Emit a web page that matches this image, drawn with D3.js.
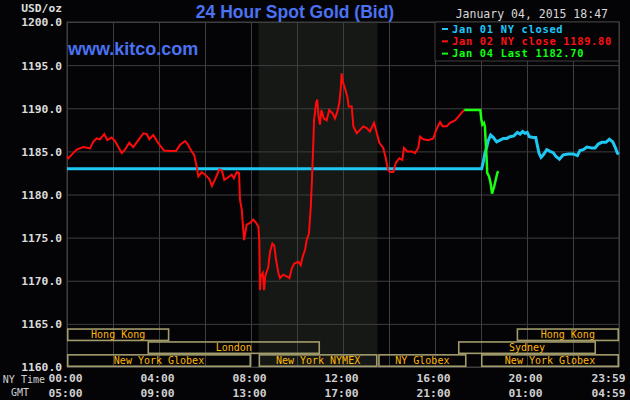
<!DOCTYPE html>
<html>
<head>
<meta charset="utf-8">
<script src="https://cdn.jsdelivr.net/npm/d3@7/dist/d3.min.js"></script>
<style>
html,body{margin:0;padding:0;background:#040406;}
svg{display:block;}
</style>
</head>
<body>
<svg id="chart" width="630" height="400"></svg>
<script>
// ---------------- DATA ----------------
const yTicks = [1160, 1165, 1170, 1175, 1180, 1185, 1190, 1195, 1200];
const xGridHours = [0,2,4,6,8,10,12,14,16,18,20,22,24];
const xLabelHours = [0,4,8,12,16,20,24];
const nyTimeLabels = ["00:00","04:00","08:00","12:00","16:00","20:00","23:59"];
const gmtLabels = ["05:00","09:00","13:00","17:00","21:00","01:00","04:59"];

// Jan 02 NY close (red) : [hour, price]
const redHours = [0.00,0.06,0.27,0.42,0.71,1.00,1.14,1.29,1.43,1.62,1.75,1.94,2.09,2.23,2.38,2.52,2.71,2.88,3.10,3.32,3.47,3.58,3.75,3.93,4.04,4.22,4.48,4.74,4.91,5.13,5.23,5.42,5.53,5.64,5.71,5.86,6.00,6.19,6.30,6.43,6.62,6.73,6.84,7.01,7.16,7.26,7.38,7.48,7.52,7.60,7.64,7.70,7.81,7.96,8.10,8.22,8.32,8.36,8.39,8.42,8.51,8.57,8.62,8.75,8.83,8.93,9.01,9.09,9.19,9.26,9.40,9.55,9.67,9.77,9.88,10.06,10.16,10.25,10.35,10.42,10.52,10.60,10.65,10.70,10.74,10.83,10.88,10.94,11.00,11.06,11.17,11.29,11.40,11.55,11.65,11.75,11.84,11.91,11.94,11.99,12.09,12.19,12.25,12.38,12.45,12.60,12.74,12.88,13.03,13.17,13.35,13.43,13.58,13.75,13.86,13.93,13.97,14.04,14.19,14.30,14.45,14.58,14.65,14.80,14.99,15.13,15.27,15.35,15.49,15.71,15.93,16.07,16.22,16.33,16.51,16.65,16.87,17.01,17.16,17.27];
const redPrices = [1184.4,1184.2,1184.8,1185.2,1185.5,1185.35,1186.1,1186.5,1186.4,1187.0,1186.3,1186.6,1186.2,1185.5,1184.8,1185.2,1186.0,1185.5,1186.3,1187.1,1187.0,1186.4,1186.9,1186.1,1185.7,1185.1,1185.05,1185.05,1185.75,1186.2,1185.9,1185.0,1184.6,1183.2,1182.1,1182.6,1182.3,1181.8,1181.0,1181.7,1182.9,1182.8,1181.7,1182.0,1182.3,1181.9,1182.6,1182.5,1179.4,1178.2,1176.7,1174.7,1176.5,1176.7,1177.1,1176.7,1176.3,1174.7,1168.9,1170.5,1170.9,1168.9,1170.5,1171.6,1173.4,1174.3,1174.1,1172.4,1170.9,1170.3,1170.7,1170.5,1170.3,1171.4,1172.0,1172.2,1171.8,1172.8,1173.6,1174.7,1175.5,1178.6,1181.7,1185.2,1188.6,1190.6,1191.0,1189.0,1188.1,1189.8,1188.8,1188.6,1189.8,1189.4,1188.8,1189.6,1190.6,1192.5,1194.05,1193.1,1192.3,1191.3,1190.2,1190.2,1187.9,1187.1,1187.5,1187.9,1187.7,1187.3,1188.3,1187.5,1186.0,1185.4,1184.2,1183.2,1182.8,1182.6,1182.6,1183.7,1184.2,1184.0,1185.4,1185.0,1185.0,1184.8,1185.4,1186.7,1186.4,1186.3,1186.5,1187.6,1188.4,1187.9,1187.9,1188.3,1188.6,1189.0,1189.5,1189.8];

// Jan 04 Last (green)
const greenHours = [17.27,17.97,18.02,18.06,18.13,18.17,18.20,18.24,18.27,18.35,18.42,18.48,18.57,18.64,18.71,18.75];
const greenPrices = [1189.8,1189.8,1188.6,1188.1,1188.3,1187.9,1186.3,1184.4,1182.5,1182.1,1181.3,1180.1,1180.9,1181.7,1182.5,1182.7];

// Jan 01 NY closed (cyan)
const cyanHours = [0.00,17.97,18.03,18.10,18.17,18.25,18.32,18.42,18.54,18.68,18.83,18.97,19.12,19.26,19.43,19.58,19.70,19.81,19.91,20.01,20.10,20.28,20.38,20.45,20.52,20.61,20.71,20.86,21.00,21.14,21.26,21.41,21.58,21.80,22.01,22.19,22.30,22.45,22.60,22.81,22.96,23.10,23.25,23.43,23.58,23.73,23.83,23.93,24.00];
const cyanPrices = [1183.0,1183.0,1183.0,1183.8,1184.8,1185.5,1186.3,1186.9,1186.6,1186.1,1186.3,1186.5,1186.5,1186.7,1186.8,1187.2,1187.0,1187.3,1187.1,1187.2,1186.7,1186.6,1186.6,1185.7,1184.8,1184.3,1184.6,1185.2,1185.0,1184.85,1184.4,1184.1,1184.6,1184.7,1184.7,1184.5,1185.1,1185.2,1185.5,1185.4,1185.4,1185.85,1186.05,1186.05,1186.4,1186.1,1185.5,1184.8,1184.7];

// COMEX shaded session
const shadeStart = 8.33, shadeEnd = 13.5;

// Trading sessions
const sessionNames = ["Hong Kong","Hong Kong","London","Sydney","New York Globex","New York NYMEX","NY Globex","New York Globex"];
const sessionStart = [0, 19.55, 3.5, 17.0, 0, 8.33, 13.53, 18.0];
const sessionEnd   = [4.45, 24, 11.0, 23.0, 8.0, 13.5, 17.37, 24];
const sessionRow   = [0, 0, 1, 1, 2, 2, 2, 2];

const legendLabels = ["Jan 01 NY closed","Jan 02 NY close 1189.80","Jan 04 Last 1182.70"];
const legendColors = ["#1ec8f8","#ff1010","#10ff10"];

// ---------------- DRAW ----------------
const svg = d3.select("#chart");
const W = 630, H = 400;
const L = 67, R = 619, T = 22, B = 367;
const mono = "'DejaVu Sans Mono', 'Liberation Mono', monospace";
const gridColor = "#3e3e3e";

svg.append("rect").attr("width", W).attr("height", H).attr("fill", "#040406");

const x = d3.scaleLinear().domain([0, 24]).range([L, R]);
const y = d3.scaleLinear().domain([1160, 1200]).range([B, T]);

// shaded region
svg.append("rect")
  .attr("x", x(shadeStart)).attr("y", T)
  .attr("width", x(shadeEnd) - x(shadeStart)).attr("height", B - T)
  .attr("fill", "#151815");

// grid via axes
const gx = svg.append("g").attr("transform", `translate(0,${B})`)
  .call(d3.axisBottom(x).tickValues(xGridHours).tickSize(-(B - T)).tickFormat(""));
gx.select(".domain").remove();
gx.selectAll("line").attr("stroke", gridColor).attr("stroke-width", 1);

const gy = svg.append("g").attr("transform", `translate(${L},0)`)
  .call(d3.axisLeft(y).tickValues(yTicks).tickSize(-(R - L)).tickFormat(d3.format(".1f")));
gy.select(".domain").remove();
gy.selectAll("line").attr("stroke", gridColor).attr("stroke-width", 1);
gy.selectAll("text")
  .attr("x", -5).attr("dy", "0.35em")
  .attr("fill", "#dcdcdc").attr("font-family", mono)
  .attr("font-size", "11.3px").attr("font-weight", "bold");

// plot border
svg.append("rect").attr("x", L).attr("y", T).attr("width", R - L).attr("height", B - T)
  .attr("fill", "none").attr("stroke", gridColor).attr("stroke-width", 1);

// sessions
const rowH = 12.9;
const sessG = svg.append("g");
sessionNames.forEach((name, i) => {
  const top = B - (3 - sessionRow[i]) * rowH;
  const x0 = x(sessionStart[i]), x1 = x(sessionEnd[i]);
  sessG.append("rect")
    .attr("x", x0 + 0.75).attr("y", top + 0.75)
    .attr("width", x1 - x0 - 1.5).attr("height", rowH - 1.5)
    .attr("fill", "none").attr("stroke", "#a39c6c").attr("stroke-width", 1.6);
  sessG.append("text")
    .attr("x", (x0 + x1) / 2).attr("y", top + rowH / 2 + 3.6)
    .attr("text-anchor", "middle")
    .attr("fill", "#ffb70a").attr("font-family", mono).attr("font-size", "10px")
    .text(name);
});

// lines
const line = d3.line().x(d => x(d[0])).y(d => y(d[1]));
const cyanData = cyanHours.map((h, i) => [h, cyanPrices[i]]);
const redData = redHours.map((h, i) => [h, redPrices[i]]);
const greenData = greenHours.map((h, i) => [h, greenPrices[i]]);

svg.append("path").datum(cyanData).attr("d", line)
  .attr("fill", "none").attr("stroke", "#1ec8f2").attr("stroke-width", 3);
svg.append("path").datum(redData).attr("d", line)
  .attr("fill", "none").attr("stroke", "#ff0a0a").attr("stroke-width", 2);
svg.append("path").datum(greenData).attr("d", line)
  .attr("fill", "none").attr("stroke", "#1aff10").attr("stroke-width", 2.5);

// legend box
const lx0 = x(16), ly0 = T, ly1 = 61;
svg.append("rect").attr("x", lx0).attr("y", ly0).attr("width", R - lx0).attr("height", ly1 - ly0)
  .attr("fill", "#040406").attr("stroke", gridColor).attr("stroke-width", 1);
legendLabels.forEach((t, i) => {
  const cy = 29 + i * 12.3;
  svg.append("rect").attr("x", 442).attr("y", cy - 1).attr("width", 6).attr("height", 2)
    .attr("fill", legendColors[i]);
  svg.append("text").attr("x", 452).attr("y", cy + 3.8)
    .attr("fill", legendColors[i]).attr("font-family", mono).attr("font-size", "10.4px")
    .attr("letter-spacing", "0.7px").attr("font-weight", "bold")
    .text(t);
});

// x axis label rows
function labelRow(labels, yPos) {
  const g = svg.append("g").attr("transform", `translate(0,${yPos})`)
    .call(d3.axisBottom(x).tickValues(xLabelHours).tickSize(0).tickPadding(0)
      .tickFormat((d, i) => labels[i]));
  g.select(".domain").remove();
  g.selectAll("text")
    .attr("fill", "#d0d0d0").attr("font-family", mono).attr("font-size", "11.3px")
    .attr("font-weight", "bold").attr("dy", "0").attr("y", 0)
    .attr("dx", (d, i) => i === labels.length - 1 ? -11 : -2);
}
labelRow(nyTimeLabels, 382);
labelRow(gmtLabels, 397);

svg.append("text").attr("x", 45).attr("y", 383).attr("text-anchor", "end")
  .attr("fill", "#d0d0d0").attr("font-family", mono).attr("font-size", "10px").text("NY Time");
svg.append("text").attr("x", 29).attr("y", 396).attr("text-anchor", "end")
  .attr("fill", "#d0d0d0").attr("font-family", mono).attr("font-size", "10px").text("GMT");

// titles
svg.append("text").attr("x", 62).attr("y", 12).attr("text-anchor", "end")
  .attr("fill", "#dcdcdc").attr("font-family", mono).attr("font-size", "11.3px")
  .attr("font-weight", "bold").text("USD/oz");
svg.append("text").attr("x", 295).attr("y", 18).attr("text-anchor", "middle")
  .attr("fill", "#4a72f2").attr("font-family", "'Liberation Sans', Arial, sans-serif")
  .attr("font-size", "17.5px").attr("font-weight", "bold").text("24 Hour Spot Gold (Bid)");
svg.append("text").attr("x", 68).attr("y", 55)
  .attr("fill", "#4a72f2").attr("font-family", "'Liberation Sans', Arial, sans-serif")
  .attr("font-size", "18px").attr("font-weight", "bold").text("www.kitco.com");
svg.append("text").attr("x", 608).attr("y", 18).attr("text-anchor", "end")
  .attr("fill", "#d8d8d8").attr("font-family", mono).attr("font-size", "11.5px")
  .text("January 04, 2015 18:47");
</script>
</body>
</html>
